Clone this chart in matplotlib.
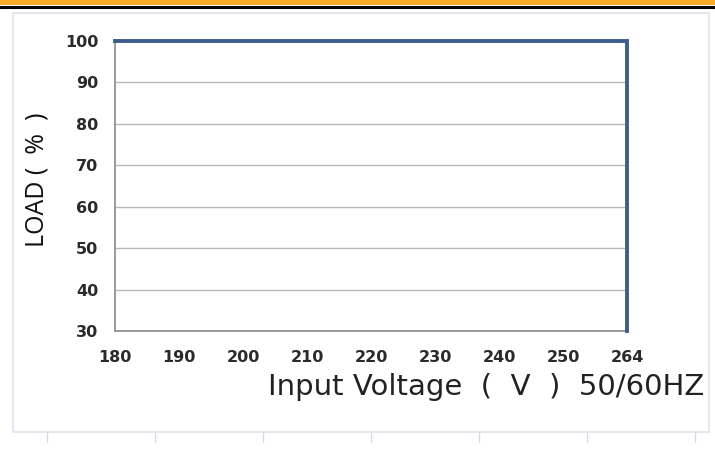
import matplotlib
matplotlib.use("Agg")
import matplotlib.pyplot as plt
from matplotlib.patches import Rectangle
from matplotlib.lines import Line2D

# categories on the x axis (Excel-style category axis)
voltages = ["180", "190", "200", "210", "220", "230", "240", "250", "264"]
# load curve: full load up to 264 V, then drops to the bottom
curve_x = ["180", "264", "264"]
curve_y = [100, 100, 30]
y_ticks = [30, 40, 50, 60, 70, 80, 90, 100]

fig = plt.figure(figsize=(7.15, 4.54), dpi=100)

# orange header band and black rule
fig.patches.append(Rectangle((0, 1 - 5 / 454), 1, 5 / 454, transform=fig.transFigure,
                             facecolor="#f8a92a", edgecolor="none"))
fig.lines.append(Line2D([0, 1], [1 - 6.5 / 454] * 2, transform=fig.transFigure,
                        color="black", lw=2.2))

# faint outer frame of the chart object
fig.patches.append(Rectangle((13 / 715, 1 - 432 / 454), (709 - 13) / 715, (432 - 13) / 454,
                             transform=fig.transFigure, facecolor="none",
                             edgecolor="#dde3ee", lw=1.2))
for xp in [47, 155, 263, 371, 479, 587, 695]:
    fig.lines.append(Line2D([xp / 715] * 2, [1 - 432 / 454, 1 - 442 / 454],
                            transform=fig.transFigure, color="#d8dde6", lw=1))

ax = fig.add_axes([115 / 715, 1 - 331 / 454, (627 - 115) / 715, (331 - 41) / 454])

idx = {v: i for i, v in enumerate(voltages)}
ax.plot([idx[v] for v in curve_x], curve_y, color="#3c5e8c", lw=2.8,
        solid_joinstyle="miter", zorder=3, clip_on=False)

ax.set_xlim(0, len(voltages) - 1)
ax.set_ylim(30, 100)
ax.set_xticks(range(len(voltages)))
ax.set_xticklabels(voltages)
ax.set_yticks(y_ticks)
ax.tick_params(length=0, labelsize=11.5, labelcolor="#2a2a2a")
for lab in ax.get_xticklabels() + ax.get_yticklabels():
    lab.set_fontweight("bold")
ax.tick_params(axis="x", pad=14)
ax.tick_params(axis="y", pad=12)
ax.grid(axis="y", color="#b8b8b8", lw=1)
ax.set_axisbelow(True)
for side in ["top", "right"]:
    ax.spines[side].set_visible(False)
for side in ["left", "bottom"]:
    ax.spines[side].set_color("#8a8a8a")
    ax.spines[side].set_linewidth(1.2)

fig.text(37 / 715, 1 - 180 / 454, "LOAD (  %  )", rotation=90, ha="center", va="center",
         fontsize=18, family="Open Sans", color="#111111")
fig.text(268 / 715, 1 - 387 / 454, "Input Voltage  (  V  )  50/60HZ", ha="left", va="center",
         fontsize=21, family="DejaVu Sans", color="#222222")

fig.savefig("out.png", dpi=100)
